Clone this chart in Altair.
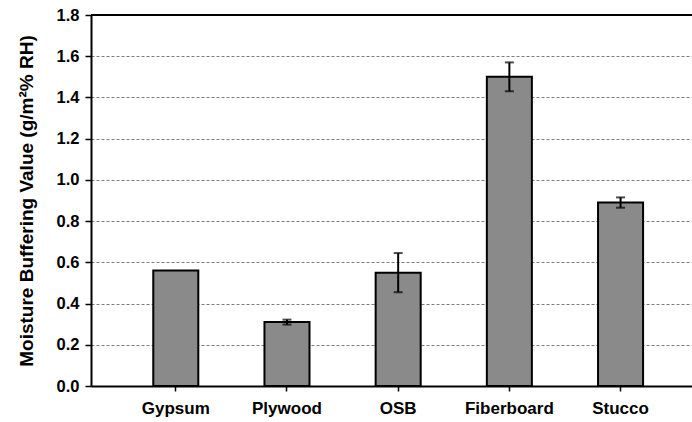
import altair as alt
import pandas as pd

materials = ["Gypsum", "Plywood", "OSB", "Fiberboard", "Stucco"]
mbv = [0.56, 0.31, 0.55, 1.50, 0.89]
mbv_err = [0.0, 0.012, 0.095, 0.07, 0.025]

df = pd.DataFrame({"material": materials, "mbv": mbv, "err": mbv_err})
df["lo"] = df["mbv"] - df["err"]
df["hi"] = df["mbv"] + df["err"]
err_df = df[df["err"] > 0]

FONT = "Liberation Sans"

x = alt.X(
    "material:N",
    sort=materials,
    scale=alt.Scale(paddingInner=0.595, paddingOuter=0.5, align=0.56),
    axis=alt.Axis(
        title=None, labelAngle=0, labelFontWeight="bold", labelFontSize=17,
        labelFont=FONT, labelColor="black", labelPadding=9,
        domainColor="black", domainWidth=2, tickColor="black", tickSize=5,
        tickWidth=1.5,
    ),
)
y_scale = alt.Scale(domain=[0, 1.8], nice=False)

bars = alt.Chart(df).mark_bar(
    fill="#8a8a8a", stroke="black", strokeWidth=2
).encode(
    x=x,
    y=alt.Y(
        "mbv:Q", scale=y_scale,
        axis=alt.Axis(
            values=[0, 0.2, 0.4, 0.6, 0.8, 1.0, 1.2, 1.4, 1.6, 1.8],
            format=".1f", title="Moisture Buffering Value (g/m²% RH)",
            titleFont=FONT, titleFontSize=19, titleFontWeight="bold",
            titleColor="black", titlePadding=20,
            labelFont=FONT, labelFontSize=16.5, labelFontWeight="bold",
            labelColor="black", labelPadding=6,
            domainColor="black", domainWidth=2, tickColor="black",
            tickSize=6, tickWidth=1.5,
            grid=True, gridColor="#444", gridDash=[3, 2], gridWidth=1,
            gridOpacity=0.7,
        ),
    ),
)

err_line = alt.Chart(err_df).mark_rule(color="black", strokeWidth=2).encode(
    x=alt.X("material:N", sort=materials), y="lo:Q", y2="hi:Q"
)
cap_hi = alt.Chart(err_df).mark_tick(color="black", thickness=2, size=9).encode(
    x=alt.X("material:N", sort=materials), y="hi:Q"
)
cap_lo = alt.Chart(err_df).mark_tick(color="black", thickness=2, size=9).encode(
    x=alt.X("material:N", sort=materials), y="lo:Q"
)

top = alt.Chart(pd.DataFrame({"v": [1.8]})).mark_rule(
    color="black", strokeWidth=2
).encode(y=alt.Y("v:Q", scale=y_scale))

chart = (
    alt.layer(bars, err_line, cap_hi, cap_lo, top)
    .properties(
        width=601, height=371,
        autosize=alt.AutoSizeParams(type="none"),
        padding={"left": 91, "top": 15, "right": 0, "bottom": 36},
        background="white",
    )
    .configure_view(stroke=None)
)

chart.save("out.html", embed_options={"renderer": "svg", "actions": False})
